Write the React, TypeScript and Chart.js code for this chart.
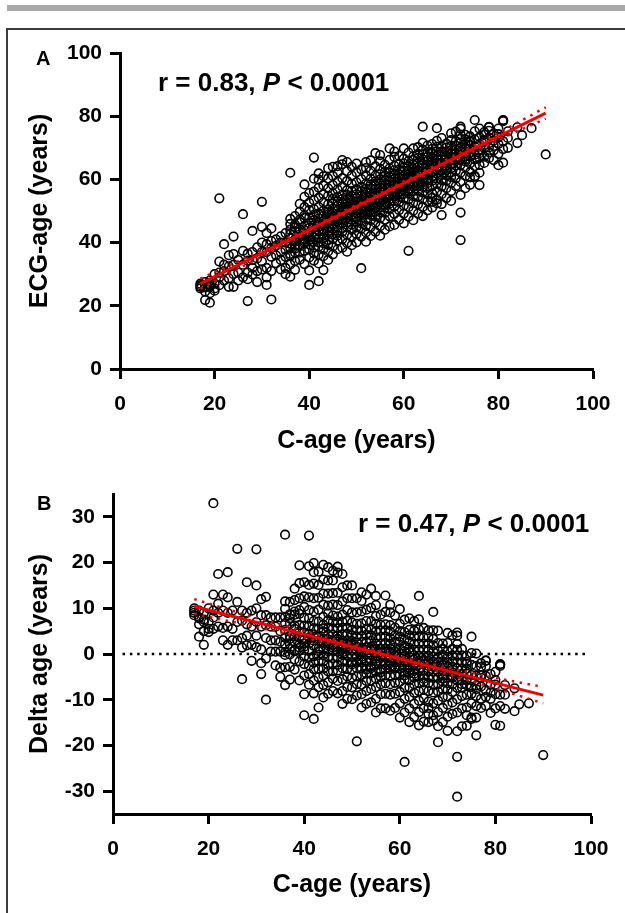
import React, { useEffect, useRef } from "react";
import { Chart, registerables } from "chart.js";

Chart.register(...registerables);

const FONT = "Arial, 'Liberation Sans', Helvetica, sans-serif";

// Tick labels
const cAgeTicks = [0, 20, 40, 60, 80, 100];
const ecgAgeTicks = [0, 20, 40, 60, 80, 100];
const deltaTicks = [-30, -20, -10, 0, 10, 20, 30];

// Each subject: [C-age (years), ECG-age (years)]
const subjects: [number, number][] = [
  [17, 26.5], [17, 27], [17, 25.5], [17, 26],
  [18, 26], [18, 27.5], [18, 21.8], [18, 24.5], [18, 25.8],
  [19, 21], [19, 26.5], [19, 28], [19, 26], [19, 24],
  [20, 27], [20, 24.8], [20, 30], [20, 25.5],
  [21, 54], [21, 34], [21, 26.5], [21, 30.5], [21, 29],
  [22, 39.5], [22, 33], [22, 28], [22, 31],
  [23, 28.7], [23, 26], [23, 36], [23, 32.5],
  [24, 41.9], [24, 26], [24, 36.4], [24, 30], [24, 33],
  [25, 34.5], [25, 30.5], [25, 28],
  [26, 49], [26, 37.4], [26, 33], [26, 29],
  [27, 21.5], [27, 34.3], [27, 28.4], [27, 30.5], [27, 36.5],
  [28, 43.7], [28, 37], [28, 34.5], [28, 29.9], [28, 32],
  [29, 31], [29, 38.5], [29, 35], [29, 27.5],
  [30, 52.9], [30, 45], [30, 37], [30, 34], [30, 31.5], [30, 40],
  [31, 43], [31, 37], [31, 32], [31, 29], [31, 26.6], [31, 39.5],
  [32, 22], [32, 35.5], [32, 38.3], [32, 44.5], [32, 40.5], [32, 31],
  [33, 36], [33, 41], [33, 33.5], [33, 39],
  [34, 42], [34, 37], [34, 34.5], [34, 40], [34, 31.5],
  [35, 35.5], [35, 32], [35, 37.7], [35, 40], [35, 43], [35, 30],
  [36, 29.2], [36, 33.1], [36, 35.8], [36, 36.4], [36, 38.2], [36, 39.6], [36, 41.3], [36, 42.7], [36, 44.1], [36, 45.9], [36, 47.5], [36, 62.1],
  [37, 31.4], [37, 34.2], [37, 36.9], [37, 38.1], [37, 40.3], [37, 41.0], [37, 43.6], [37, 45.7], [37, 48.4], [37, 44.8], [37, 39.2],
  [38, 34.6], [38, 36.8], [38, 38.9], [38, 40.7], [38, 41.9], [38, 43.5], [38, 44.2], [38, 46.6], [38, 49.8], [38, 52.3], [38, 47.3],
  [39, 33.2], [39, 37.4], [39, 39.7], [39, 41.1], [39, 42.6], [39, 43.9], [39, 45.3], [39, 47.8], [39, 48.6], [39, 51.2], [39, 54.5], [39, 58.4], [39, 40.4],
  [40, 26.6], [40, 31.2], [40, 35.3], [40, 37.8], [40, 39.4], [40, 40.9], [40, 42.3], [40, 43.1], [40, 44.7], [40, 46.2], [40, 47.9], [40, 50.3], [40, 52.6], [40, 55.7], [40, 41.6],
  [41, 34.3], [41, 36.6], [41, 38.5], [41, 40.2], [41, 41.7], [41, 43.3], [41, 44.6], [41, 45.4], [41, 47.1], [41, 48.8], [41, 50.6], [41, 53.4], [41, 56.1], [41, 60.2], [41, 66.9],
  [42, 27.8], [42, 33.4], [42, 36.2], [42, 38.7], [42, 40.1], [42, 41.5], [42, 43.8], [42, 44.9], [42, 46.3], [42, 47.6], [42, 49.2], [42, 51.3], [42, 54.2], [42, 57.4], [42, 59.9], [42, 61.9], [42, 45.7],
  [43, 31.3], [43, 35.7], [43, 37.9], [43, 39.8], [43, 41.4], [43, 42.8], [43, 44.2], [43, 45.9], [43, 46.8], [43, 48.5], [43, 50.1], [43, 52.7], [43, 55.3], [43, 58.1], [43, 61.0], [43, 43.6],
  [44, 34.5], [44, 37.2], [44, 39.3], [44, 40.8], [44, 42.4], [44, 43.7], [44, 45.1], [44, 46.5], [44, 47.3], [44, 48.9], [44, 50.4], [44, 52.1], [44, 54.8], [44, 57.2], [44, 60.3], [44, 63.5], [44, 49.6],
  [45, 36.3], [45, 38.8], [45, 41.2], [45, 42.6], [45, 44.3], [45, 45.6], [45, 46.9], [45, 47.7], [45, 49.3], [45, 50.7], [45, 52.4], [45, 53.9], [45, 55.6], [45, 58.2], [45, 61.1], [45, 64.0], [45, 48.2],
  [46, 37.9], [46, 40.6], [46, 42.2], [46, 43.8], [46, 45.1], [46, 46.7], [46, 48.0], [46, 48.9], [46, 50.2], [46, 51.6], [46, 53.1], [46, 54.4], [46, 56.8], [46, 59.3], [46, 62.1], [46, 64.2], [46, 47.4],
  [47, 38.4], [47, 41.1], [47, 43.4], [47, 44.6], [47, 46.2], [47, 47.5], [47, 48.6], [47, 49.7], [47, 51.0], [47, 52.6], [47, 53.8], [47, 55.2], [47, 57.7], [47, 60.4], [47, 64.8], [47, 66.1], [47, 50.3],
  [48, 37.1], [48, 39.9], [48, 42.5], [48, 44.9], [48, 46.4], [48, 47.8], [48, 49.1], [48, 50.2], [48, 50.9], [48, 52.3], [48, 53.7], [48, 55.1], [48, 56.6], [48, 59.5], [48, 62.6], [48, 65.5], [48, 48.4],
  [49, 39.2], [49, 41.8], [49, 44.1], [49, 45.7], [49, 47.3], [49, 48.6], [49, 49.9], [49, 51.2], [49, 52.0], [49, 53.4], [49, 54.7], [49, 56.3], [49, 58.6], [49, 61.2], [49, 64.0], [49, 50.6],
  [50, 40.1], [50, 42.7], [50, 44.8], [50, 46.6], [50, 48.2], [50, 49.4], [50, 50.7], [50, 51.9], [50, 52.8], [50, 54.1], [50, 55.3], [50, 56.9], [50, 59.1], [50, 62.2], [50, 65.0], [50, 47.7],
  [51, 31.9], [51, 41.9], [51, 44.4], [51, 46.1], [51, 47.9], [51, 49.3], [51, 50.5], [51, 51.7], [51, 52.6], [51, 53.5], [51, 54.8], [51, 56.2], [51, 57.6], [51, 60.1], [51, 63.2], [51, 49.1],
  [52, 40.3], [52, 43.2], [52, 45.3], [52, 47.4], [52, 48.9], [52, 50.2], [52, 51.4], [52, 52.3], [52, 53.2], [52, 54.6], [52, 55.9], [52, 57.1], [52, 58.7], [52, 61.3], [52, 63.6], [52, 65.5], [52, 50.8],
  [53, 42.1], [53, 44.9], [53, 47.1], [53, 48.7], [53, 50.3], [53, 51.6], [53, 52.9], [53, 53.8], [53, 54.5], [53, 55.7], [53, 57.2], [53, 58.4], [53, 60.2], [53, 62.7], [53, 66.0], [53, 49.6],
  [54, 43.4], [54, 46.3], [54, 48.2], [54, 49.8], [54, 51.3], [54, 52.5], [54, 53.7], [54, 54.8], [54, 55.6], [54, 56.9], [54, 58.1], [54, 59.4], [54, 61.2], [54, 64.1], [54, 68.3], [54, 50.9],
  [55, 42.2], [55, 45.2], [55, 47.8], [55, 49.6], [55, 51.1], [55, 52.8], [55, 54.0], [55, 55.2], [55, 56.1], [55, 57.3], [55, 58.6], [55, 60.0], [55, 61.6], [55, 63.3], [55, 65.7], [55, 67.7], [55, 53.4],
  [56, 44.1], [56, 47.2], [56, 49.4], [56, 51.0], [56, 52.6], [56, 54.1], [56, 55.3], [56, 56.4], [56, 57.2], [56, 58.3], [56, 59.7], [56, 61.1], [56, 62.4], [56, 64.6], [56, 52.0],
  [57, 45.1], [57, 48.3], [57, 50.6], [57, 52.3], [57, 53.8], [57, 55.1], [57, 56.2], [57, 57.3], [57, 58.2], [57, 59.4], [57, 60.8], [57, 62.2], [57, 63.5], [57, 66.2], [57, 69.8], [57, 54.6],
  [58, 45.6], [58, 49.1], [58, 51.4], [58, 53.2], [58, 54.7], [58, 56.0], [58, 57.1], [58, 58.3], [58, 59.1], [58, 60.2], [58, 61.5], [58, 62.9], [58, 64.3], [58, 67.1], [58, 68.8], [58, 55.4],
  [59, 47.2], [59, 50.3], [59, 52.7], [59, 54.4], [59, 55.9], [59, 57.3], [59, 58.6], [59, 59.5], [59, 60.4], [59, 61.7], [59, 63.1], [59, 64.8], [59, 67.4], [59, 56.2],
  [60, 46.1], [60, 49.2], [60, 51.7], [60, 53.9], [60, 55.4], [60, 56.8], [60, 58.1], [60, 59.2], [60, 60.1], [60, 61.2], [60, 62.6], [60, 63.8], [60, 65.0], [60, 66.6], [60, 69.8], [60, 57.5],
  [61, 37.4], [61, 48.2], [61, 51.2], [61, 53.6], [61, 55.5], [61, 57.0], [61, 58.4], [61, 59.6], [61, 60.5], [61, 61.6], [61, 62.8], [61, 64.2], [61, 65.8], [61, 68.5], [61, 56.3],
  [62, 47.1], [62, 50.1], [62, 52.6], [62, 54.7], [62, 56.3], [62, 57.8], [62, 59.0], [62, 60.2], [62, 61.3], [62, 62.4], [62, 63.3], [62, 64.7], [62, 66.1], [62, 67.3], [62, 69.8], [62, 58.5],
  [63, 49.2], [63, 52.1], [63, 54.5], [63, 56.4], [63, 57.9], [63, 59.3], [63, 60.6], [63, 61.8], [63, 62.7], [63, 63.9], [63, 65.2], [63, 66.8], [63, 68.1], [63, 70.2], [63, 58.7],
  [64, 48.4], [64, 51.3], [64, 53.8], [64, 55.9], [64, 57.6], [64, 59.1], [64, 60.4], [64, 61.6], [64, 62.5], [64, 63.6], [64, 64.9], [64, 66.3], [64, 67.9], [64, 69.4], [64, 71.6], [64, 76.7],
  [65, 50.2], [65, 53.1], [65, 55.3], [65, 57.2], [65, 58.8], [65, 60.3], [65, 61.5], [65, 62.8], [65, 63.7], [65, 64.6], [65, 65.9], [65, 67.2], [65, 68.6], [65, 70.7], [65, 59.6],
  [66, 51.1], [66, 52.9], [66, 54.2], [66, 55.6], [66, 57.9], [66, 59.6], [66, 61.0], [66, 62.3], [66, 63.4], [66, 64.5], [66, 65.6], [66, 66.9], [66, 68.3], [66, 69.7], [66, 71.2],
  [67, 52.4], [67, 53.6], [67, 56.2], [67, 58.6], [67, 60.3], [67, 61.8], [67, 63.1], [67, 64.2], [67, 65.3], [67, 66.4], [67, 67.5], [67, 68.9], [67, 70.3], [67, 72.2], [67, 76.2],
  [68, 48.7], [68, 52.2], [68, 55.3], [68, 57.8], [68, 59.8], [68, 61.4], [68, 62.8], [68, 64.1], [68, 65.2], [68, 66.2], [68, 67.3], [68, 68.7], [68, 70.4], [68, 73.1],
  [69, 54.1], [69, 57.2], [69, 59.6], [69, 61.3], [69, 62.9], [69, 64.3], [69, 65.4], [69, 66.5], [69, 67.4], [69, 68.8], [69, 70.1], [69, 71.3], [69, 63.6],
  [70, 53.2], [70, 56.3], [70, 58.9], [70, 60.7], [70, 62.2], [70, 63.6], [70, 64.8], [70, 66.1], [70, 67.2], [70, 68.1], [70, 69.3], [70, 70.6], [70, 72.4], [70, 74.6],
  [71, 57.9], [71, 60.4], [71, 62.7], [71, 64.4], [71, 65.8], [71, 67.0], [71, 68.2], [71, 69.4], [71, 70.7], [71, 72.1], [71, 75.1], [71, 66.3],
  [72, 40.8], [72, 49.5], [72, 55.1], [72, 59.2], [72, 62.1], [72, 64.6], [72, 66.2], [72, 67.6], [72, 68.9], [72, 70.1], [72, 71.6], [72, 72.9], [72, 74.2], [72, 76.0], [72, 76.7],
  [73, 57.2], [73, 61.1], [73, 63.8], [73, 65.7], [73, 67.3], [73, 68.6], [73, 69.8], [73, 71.2], [73, 72.7], [73, 74.1], [73, 66.4],
  [74, 58.3], [74, 60.6], [74, 62.3], [74, 65.1], [74, 67.2], [74, 68.4], [74, 69.7], [74, 70.8], [74, 72.3], [74, 73.6], [74, 71.9],
  [75, 61.1], [75, 60.8], [75, 64.2], [75, 66.3], [75, 67.8], [75, 69.2], [75, 70.4], [75, 72.6], [75, 75.2], [75, 78.8],
  [76, 58.2], [76, 62.1], [76, 64.6], [76, 66.8], [76, 68.3], [76, 69.1], [76, 71.2], [76, 73.4], [76, 76.1],
  [77, 65.2], [77, 67.2], [77, 69.9], [77, 71.8], [77, 72.4], [77, 74.2], [77, 75.0],
  [78, 66.7], [78, 68.6], [78, 70.1], [78, 73.2], [78, 75.4], [78, 76.5], [78, 76.6],
  [79, 66.1], [79, 69.2], [79, 70.6], [79, 72.3], [79, 74.6],
  [80, 64.5], [80, 68.1], [80, 71.2], [80, 73.3], [80, 74.3], [80, 76.1],
  [81, 65.3], [81, 69.6], [81, 72.1], [81, 78.4], [81, 78.8], [81, 78.7],
  [82, 70.0], [82, 73.1], [82, 75.2],
  [84, 71.5], [84, 76.5],
  [85, 74.0],
  [87, 76.2],
  [90, 67.9],
];

// Linear regression lines (end points) and 95% confidence bands
const fitX = [17, 90];
const ecgFit = [27.0, 81.0];
const deltaFit = [10.4, -9.0];
const bandX = [17, 30, 45, 55, 65, 80, 90];
const ecgUpper = [28.6, 37.6, 48.3, 55.6, 63.1, 74.7, 82.8];
const ecgLower = [25.4, 35.6, 47.1, 54.6, 61.9, 72.5, 79.2];
const deltaUpper = [12.0, 7.9, 3.6, 0.8, -1.8, -5.2, -7.2];
const deltaLower = [8.8, 5.9, 2.4, -0.2, -3.0, -7.5, -10.8];
const zeroLineX = [2, 99];

const tickFont = { family: FONT, size: 21, weight: "bold" as const };
const titleFont = { family: FONT, size: 25, weight: "bold" as const };

type PanelCfg = {
  height: number;
  padding: { left: number; right: number; top: number; bottom: number };
  yWidth: number;
  xHeight: number;
  yMin: number;
  yMax: number;
  yTicks: number[];
  yTitle: string;
  xTitlePadBottom: number;
  points: { x: number; y: number }[];
  fit: number[];
  upper: number[];
  lower: number[];
  zeroLine: boolean;
};

function pts(xs: number[], ys: number[]) {
  return xs.map((x, i) => ({ x, y: ys[i] }));
}

function buildConfig(p: PanelCfg): any {
  const datasets: any[] = [
    {
      type: "line",
      data: pts(fitX, p.fit),
      borderColor: "#f00000",
      borderWidth: 3,
      pointRadius: 0,
      fill: false,
      order: 0,
    },
    {
      type: "line",
      data: pts(bandX, p.upper),
      borderColor: "#f00000",
      borderWidth: 2.5,
      borderDash: [2.5, 5.5],
      pointRadius: 0,
      fill: false,
      cubicInterpolationMode: "monotone",
      order: 1,
    },
    {
      type: "line",
      data: pts(bandX, p.lower),
      borderColor: "#f00000",
      borderWidth: 2.5,
      borderDash: [2.5, 5.5],
      pointRadius: 0,
      fill: false,
      cubicInterpolationMode: "monotone",
      order: 1,
    },
  ];
  if (p.zeroLine) {
    datasets.push({
      type: "line",
      data: pts(zeroLineX, [0, 0]),
      borderColor: "#000",
      borderWidth: 2.5,
      borderDash: [2.5, 4.8],
      pointRadius: 0,
      fill: false,
      order: 3,
    });
  }
  datasets.push({
    type: "scatter",
    data: p.points,
    pointStyle: "circle",
    pointRadius: 4.3,
    pointBorderWidth: 1.6,
    pointBorderColor: "#000",
    pointBackgroundColor: "rgba(0,0,0,0)",
    order: 2,
  });

  const axisCommon = {
    type: "linear",
    grid: {
      display: true,
      drawOnChartArea: false,
      drawTicks: true,
      tickLength: 10,
      tickWidth: 3,
      tickColor: "#000",
    },
    border: { display: true, width: 3, color: "#000" },
  };

  return {
    type: "scatter",
    data: { datasets },
    options: {
      animation: false,
      responsive: false,
      devicePixelRatio: 1,
      events: [],
      layout: { padding: p.padding },
      plugins: { legend: { display: false }, tooltip: { enabled: false } },
      scales: {
        x: {
          ...axisCommon,
          min: 0,
          max: 100,
          afterBuildTicks: (s: any) => {
            s.ticks = cAgeTicks.map((value) => ({ value }));
          },
          afterFit: (s: any) => {
            s.height = p.xHeight;
          },
          ticks: { color: "#000", font: tickFont, padding: 13, maxRotation: 0, autoSkip: false },
          title: {
            display: true,
            text: "C-age (years)",
            color: "#000",
            font: titleFont,
            padding: { top: 0, bottom: p.xTitlePadBottom },
          },
        },
        y: {
          ...axisCommon,
          min: p.yMin,
          max: p.yMax,
          afterBuildTicks: (s: any) => {
            s.ticks = p.yTicks.map((value) => ({ value }));
          },
          afterFit: (s: any) => {
            s.width = p.yWidth;
          },
          ticks: { color: "#000", font: tickFont, padding: 8, autoSkip: false },
          title: {
            display: true,
            text: p.yTitle,
            color: "#000",
            font: titleFont,
            padding: { top: 17, bottom: 0 },
          },
        },
      },
    },
  };
}

function Panel({ top, cfg }: { top: number; cfg: PanelCfg }) {
  const ref = useRef<HTMLCanvasElement | null>(null);
  useEffect(() => {
    if (!ref.current) return;
    const chart = new Chart(ref.current, buildConfig(cfg));
    return () => chart.destroy();
  }, []);
  return (
    <canvas
      ref={ref}
      width={625}
      height={cfg.height}
      style={{ position: "absolute", left: 0, top, width: 625, height: cfg.height }}
    />
  );
}

const panelA: PanelCfg = {
  height: 470,
  padding: { left: 8, right: 32, top: 53, bottom: 8 },
  yWidth: 112,
  xHeight: 93,
  yMin: 0,
  yMax: 100,
  yTicks: ecgAgeTicks,
  yTitle: "ECG-age (years)",
  xTitlePadBottom: 6,
  points: subjects.map(([c, e]) => ({ x: c, y: e })),
  fit: ecgFit,
  upper: ecgUpper,
  lower: ecgLower,
  zeroLine: false,
};

const panelB: PanelCfg = {
  height: 443,
  padding: { left: 8, right: 34, top: 24, bottom: 8 },
  yWidth: 105,
  xHeight: 91,
  yMin: -35,
  yMax: 35,
  yTicks: deltaTicks,
  yTitle: "Delta age (years)",
  xTitlePadBottom: 5,
  // Delta age = ECG-age − C-age
  points: subjects.map(([c, e]) => ({ x: c, y: e - c })),
  fit: deltaFit,
  upper: deltaUpper,
  lower: deltaLower,
  zeroLine: true,
};

const textStyle = (left: number, top: number, size: number): React.CSSProperties => ({
  position: "absolute",
  left,
  top,
  fontFamily: FONT,
  fontWeight: "bold",
  fontSize: size,
  lineHeight: 1,
  color: "#000",
  whiteSpace: "nowrap",
});

export default function App() {
  return (
    <div
      style={{
        position: "absolute",
        left: 0,
        top: 0,
        width: 625,
        height: 913,
        overflow: "hidden",
        background: "#fff",
      }}
    >
      <div style={{ position: "absolute", left: 7, top: 5, width: 640, height: 6, background: "#a9a9a9" }} />
      <div
        style={{
          position: "absolute",
          left: 6,
          top: 28,
          width: 700,
          height: 1000,
          border: "2px solid #3c3c3c",
          boxSizing: "border-box",
        }}
      />
      <Panel top={0} cfg={panelA} />
      <Panel top={470} cfg={panelB} />
      <div style={textStyle(36, 48, 20)}>A</div>
      <div style={textStyle(37, 493, 20)}>B</div>
      <div style={textStyle(158, 69, 26)}>
        r = 0.83, <i>P</i> &lt; 0.0001
      </div>
      <div style={textStyle(358, 510, 26)}>
        r = 0.47, <i>P</i> &lt; 0.0001
      </div>
    </div>
  );
}
